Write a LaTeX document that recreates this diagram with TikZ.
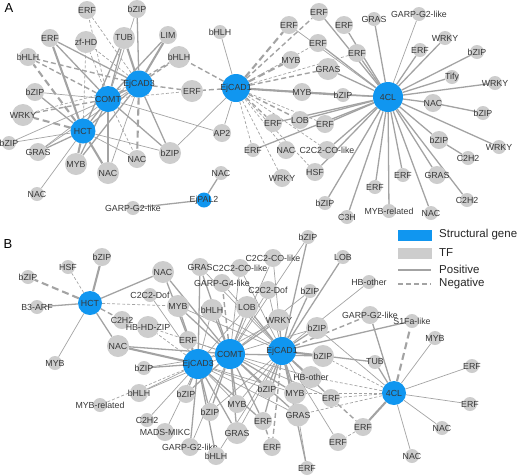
\documentclass[tikz,border=0pt]{standalone}
\usepackage{fontspec}
\setmainfont{Liberation Sans}
\usetikzlibrary{backgrounds}
\definecolor{sgblue}{RGB}{16,150,240}
\definecolor{tfgray}{RGB}{205,205,205}
\definecolor{edgegray}{RGB}{163,163,163}
\definecolor{labtext}{RGB}{55,55,55}
\newcommand\tfn[4][]{\node[tf,#1,label={[lab]center:#4}] (#2) at (#3) {};}
\newcommand\sgn[4][]{\node[sg,#1,label={[lab]center:#4}] (#2) at (#3) {};}
\newcommand\E[3]{\foreach \tgt in {#3} \draw[#2] (#1) -- (\tgt);}
\tikzset{
  tf/.style={circle,fill=tfgray,inner sep=0pt,minimum size=18pt},
  big/.style={minimum size=22pt},
  sml/.style={minimum size=14pt},
  sg/.style={circle,fill=sgblue,inner sep=0pt,minimum size=27pt},
  lab/.style={font=\fontsize{8.8}{9}\selectfont,text=labtext,inner sep=0pt},
  p/.style={draw=edgegray,line width=0.7pt},
  pp/.style={draw=edgegray,line width=1.3pt},
  ppp/.style={draw=edgegray,line width=2.1pt},
  n/.style={draw=edgegray,line width=0.7pt,dash pattern=on 3pt off 2pt},
  nn/.style={draw=edgegray,line width=1.4pt,dash pattern=on 5pt off 3pt},
  nnn/.style={draw=edgegray,line width=2.1pt,dash pattern=on 7pt off 4pt},
  legtext/.style={anchor=west,font=\fontsize{11.5}{12}\selectfont,text=black!85,inner sep=0pt},
  panel/.style={font=\fontsize{13}{13}\selectfont,text=black,inner sep=0pt}
}
\begin{document}
\begin{tikzpicture}[x=1pt,y=-1pt]
\useasboundingbox (0,0) rectangle (520,475);
\node[panel] (labA) at (9,8) {A};
\node[panel] (labB) at (8,244) {B};
% ---------------- Panel A nodes ----------------
\tfn{t1}{87,10}{ERF}
\tfn{t2}{137,9}{bZIP}
\tfn{t3}{50,38}{ERF}
\tfn[big]{t4}{86,42}{zf-HD}
\tfn[big]{t5}{124,38}{TUB}
\tfn{t6}{168,35}{LIM}
\tfn{t7}{28,57}{bHLH}
\tfn[big]{t8}{179,57}{bHLH}
\tfn[sml]{t9}{220,32}{bHLH}
\tfn[big]{t10}{192,91}{ERF}
\tfn{t11}{35,92}{bZIP}
\tfn[big]{t12}{23,115}{WRKY}
\tfn[sml]{t13}{9,143}{bZIP}
\tfn{t14}{38,152}{GRAS}
\tfn[big]{t15}{76,164}{MYB}
\tfn[big]{t16}{108,173}{NAC}
\tfn{t17}{137,159}{NAC}
\tfn[big]{t18}{170,153}{bZIP}
\tfn[sml]{t19}{37,194}{NAC}
\tfn{t20}{222,133}{AP2}
\tfn[sml]{t21}{221,173}{NAC}
\tfn[sml]{t22}{133,208}{GARP-G2-like}
\tfn{t23}{319,12}{ERF}
\tfn{t24}{289,25}{ERF}
\tfn{t25}{344,25}{ERF}
\tfn{t26}{318,43}{ERF}
\tfn{t27}{357,53}{ERF}
\tfn[sml]{t28}{374,19}{GRAS}
\tfn[sml]{t29}{419,14}{GARP-G2-like}
\tfn[sml]{t30}{445,38}{WRKY}
\tfn[sml]{t31}{420,50}{ERF}
\tfn[sml]{t32}{477,52}{bZIP}
\tfn{t33}{291,60}{MYB}
\tfn[big]{t34}{328,69}{GRAS}
\tfn[sml]{t35}{452,77}{Tify}
\tfn[sml]{t36}{495,83}{WRKY}
\tfn{t37}{302,92}{MYB}
\tfn[sml]{t38}{343,95}{bZIP}
\tfn{t39}{433,103}{NAC}
\tfn[sml]{t40}{483,113}{bZIP}
\tfn{t41}{273,123}{ERF}
\tfn{t42}{300,120}{LOB}
\tfn{t43}{325,124}{ERF}
\tfn{t44}{439,140}{bZIP}
\tfn[sml]{t45}{499,147}{WRKY}
\tfn[sml]{t46}{253,150}{ERF}
\tfn{t47}{286,150}{NAC}
\tfn{t48}{327,150}{C2C2-CO-like}
\tfn[sml]{t49}{468,158}{C2H2}
\tfn{t50}{315,172}{HSF}
\tfn{t51}{282,178}{WRKY}
\tfn[sml]{t52}{403,175}{ERF}
\tfn{t53}{437,175}{GRAS}
\tfn[sml]{t54}{375,187}{ERF}
\tfn[sml]{t55}{467,200}{C2H2}
\tfn[sml]{t56}{325,203}{bZIP}
\tfn[sml]{t57}{389,211}{MYB-related}
\tfn[sml]{t58}{431,213}{NAC}
\tfn[sml]{t59}{347,217}{C3H}
\sgn[minimum size=26pt]{aCOMT}{108,99}{COMT}
\sgn{aCAD3}{139,84}{EjCAD3}
\sgn[minimum size=25pt]{aHCT}{83,131}{HCT}
\sgn[minimum size=28pt]{aCAD1}{236,88}{EjCAD1}
\sgn[minimum size=30pt]{a4CL}{388,97}{4CL}
\sgn[minimum size=15pt]{aPAL}{204,200}{EjPAL2}
% ---------------- Panel B nodes ----------------
\tfn{u1}{102,257}{bZIP}
\tfn[sml]{u2}{68,267}{HSF}
\tfn[sml]{u3}{28,277}{bZIP}
\tfn[sml]{u4}{37,307}{B3-ARF}
\tfn[sml]{u5}{55,363}{MYB}
\tfn[big]{u6}{163,272}{NAC}
\tfn{u7}{200,267}{GRAS}
\tfn[sml]{u8}{150,295}{C2C2-Dof}
\tfn[big]{u9}{178,306}{MYB}
\tfn{u10}{122,320}{C2H2}
\tfn[big]{u11}{148,327}{HB-HD-ZIP}
\tfn[big]{u12}{118,346}{NAC}
\tfn{u13}{188,340}{ERF}
\tfn[sml]{u14}{144,368}{bZIP}
\tfn{u15}{139,393}{bHLH}
\tfn[sml]{u16}{100,405}{MYB-related}
\tfn{u17}{186,394}{bZIP}
\tfn[sml]{u18}{147,420}{C2H2}
\tfn{u19}{165,432}{MADS-MIKC}
\tfn{u20}{190,447}{GARP-G2-like}
\tfn{u21}{216,456}{bHLH}
\tfn{u22}{210,412}{bZIP}
\tfn{u23}{237,404}{MYB}
\tfn[big]{u24}{237,433}{GRAS}
\tfn{u25}{222,283}{GARP-G4-like}
\tfn[big]{u26}{212,310}{bHLH}
\tfn[big]{u27}{247,307}{LOB}
\tfn{u28}{240,268}{C2C2-CO-like}
\tfn{u29}{273,258}{C2C2-CO-like}
\tfn{u30}{268,290}{C2C2-Dof}
\tfn[big]{u31}{279,320}{WRKY}
\tfn[sml]{u32}{308,237}{bZIP}
\tfn[sml]{u33}{343,257}{LOB}
\tfn[sml]{u34}{310,291}{bZIP}
\tfn[sml]{u35}{369,282}{HB-other}
\tfn[big]{u36}{317,328}{bZIP}
\tfn{u37}{370,315}{GARP-G2-like}
\tfn[sml]{u38}{412,321}{S1Fa-like}
\tfn[sml]{u39}{435,338}{MYB}
\tfn[big]{u40}{323,356}{bZIP}
\tfn[sml]{u41}{375,362}{TUB}
\tfn[sml]{u42}{472,366}{ERF}
\tfn[big]{u43}{311,377}{HB-other}
\tfn{u44}{267,389}{bZIP}
\tfn[big]{u45}{295,393}{MYB}
\tfn{u46}{331,398}{ERF}
\tfn[sml]{u47}{470,404}{ERF}
\tfn[minimum size=23pt]{u48}{298,415}{GRAS}
\tfn{u49}{263,421}{ERF}
\tfn{u50}{363,427}{ERF}
\tfn[sml]{u51}{442,428}{NAC}
\tfn{u52}{272,447}{ERF}
\tfn{u53}{338,442}{ERF}
\tfn[sml]{u54}{412,456}{NAC}
\tfn[sml]{u55}{307,468}{ERF}
\sgn[minimum size=24pt]{bHCT}{90,303}{HCT}
\sgn[minimum size=30pt]{bCAD3}{198,364}{EjCAD3}
\sgn[minimum size=30pt]{bCOMT}{230,354}{COMT}
\sgn[minimum size=28pt]{bCAD1}{282,351}{EjCAD1}
\sgn[minimum size=24pt]{b4CL}{394,393}{4CL}
% ---------------- Legend ----------------
\node[fill=sgblue,minimum width=34pt,minimum height=11pt,inner sep=0pt] (legSG) at (415,235.5) {};
\node[legtext] (legSGt) at (439,235) {Structural gene};
\node[fill=tfgray,minimum width=34pt,minimum height=11pt,inner sep=0pt] (legTF) at (415,253) {};
\node[legtext] (legTFt) at (439,253) {TF};
\coordinate (lp1) at (398,270); \coordinate (lp2) at (431,270);
\coordinate (ln1) at (398,284); \coordinate (ln2) at (431,284);
\draw[draw=edgegray,line width=2pt] (lp1) -- (lp2);
\draw[draw=edgegray,line width=2pt,dash pattern=on 5pt off 3pt] (ln1) -- (ln2);
\node[legtext] (legP) at (439,269) {Positive};
\node[legtext] (legN) at (439,284) {Negative};
% ---------------- Edges ----------------
\begin{scope}[on background layer]
% Panel A: COMT
\E{aCOMT}{pp}{t3,t5,t6,aHCT,aCAD3,t15,t16,t18}
\E{aCOMT}{p}{t2,t11,t14,t20,t13}
\E{aCOMT}{nn}{t7,t12,t8}
\E{aCOMT}{n}{t1,t4,t10,t17}
% EjCAD3
\E{aCAD3}{ppp}{t6,t5}
\E{aCAD3}{pp}{t2,t3,aHCT,t18,t15}
\E{aCAD3}{p}{t16,t14}
\E{aCAD3}{nn}{t8,t10,t7}
\E{aCAD3}{nnn}{t17}
\E{aCAD3}{n}{t1,t4,t12}
% HCT
\E{aHCT}{ppp}{t3,t15,t16}
\E{aHCT}{pp}{t5,t14,t11}
\E{aHCT}{p}{t13,t19,t18,t17}
\E{aHCT}{nnn}{t7,t12}
\E{aHCT}{n}{t4}
% EjCAD1
\E{aCAD1}{p}{t9,t20,t18}
\E{aCAD1}{pp}{t37}
\E{aCAD1}{ppp}{t38}
\E{aCAD1}{nnn}{t24,t33}
\E{aCAD1}{nn}{t23,t34,t8,t10,t41,t42}
\E{aCAD1}{n}{t26,t27,t43,t46,t47,t48,t51,t50}
% 4CL
\E{a4CL}{pp}{t23,t25,t26,t27,t28,t30,t31,t32,t35,t36,t39,t44,t45,t53,t55,t58,t57,t52,t54,t59,t56,t50,t48,t46,t41,t43,t42,t38,t34,t37}
\E{a4CL}{p}{t29,t24}
\E{t39}{pp}{t40}
\E{t44}{pp}{t49}
% EjPAL2
\E{aPAL}{pp}{t21,t22}
% Panel B: HCT
\E{bHCT}{ppp}{u1}
\E{bHCT}{pp}{u4,u12,u6}
\E{bHCT}{p}{u5}
\E{bHCT}{n}{u2,u9}
\E{bHCT}{nnn}{u3}
\E{bHCT}{nn}{u10}
% EjCAD3
\E{bCAD3}{ppp}{u12}
\E{bCAD3}{pp}{u6,u9,u13,u14,u17,u20,u21,u22,u24,u7,u49}
\E{bCAD3}{p}{u15,u18,u19,u23,u8,u26,u27,u44,u45,u48,u31}
\E{bCAD3}{n}{u11,u16}
% COMT
\E{bCOMT}{pp}{u6,u7,u9,u26,u27,u31,u12,u17,u22,u23,u24,u44,u45,u48,u49,u40}
\E{bCOMT}{p}{u28,u29,u30,u13,u14,u15,u32,u34,u43,u46,u36,u20}
\E{bCOMT}{nn}{u25}
\E{bCOMT}{n}{u11}
% EjCAD1
\E{bCAD1}{ppp}{u40}
\E{bCAD1}{pp}{u32,u33,u34,u36,u38,u41,u43,u44,u45,u46,u48,u49,u55,u31,u27}
\E{bCAD1}{p}{u35,u53,u29,u30,u26,u28,u9,u7,u25,u21,u24,u23,u22}
\E{bCAD1}{nn}{u37,u52}
% 4CL
\E{b4CL}{ppp}{u50}
\E{b4CL}{pp}{u37,u41}
\E{b4CL}{p}{u39,u42,u47,u51,u54,u36}
\E{b4CL}{nnn}{u38}
\E{b4CL}{n}{u40,u43,u46,u48,u45}
\E{u46}{nn}{u50}
\E{u50}{n}{u53}
\E{u48}{p}{u55}
\E{u49}{nn}{u52}
\end{scope}
\end{tikzpicture}
\end{document}
